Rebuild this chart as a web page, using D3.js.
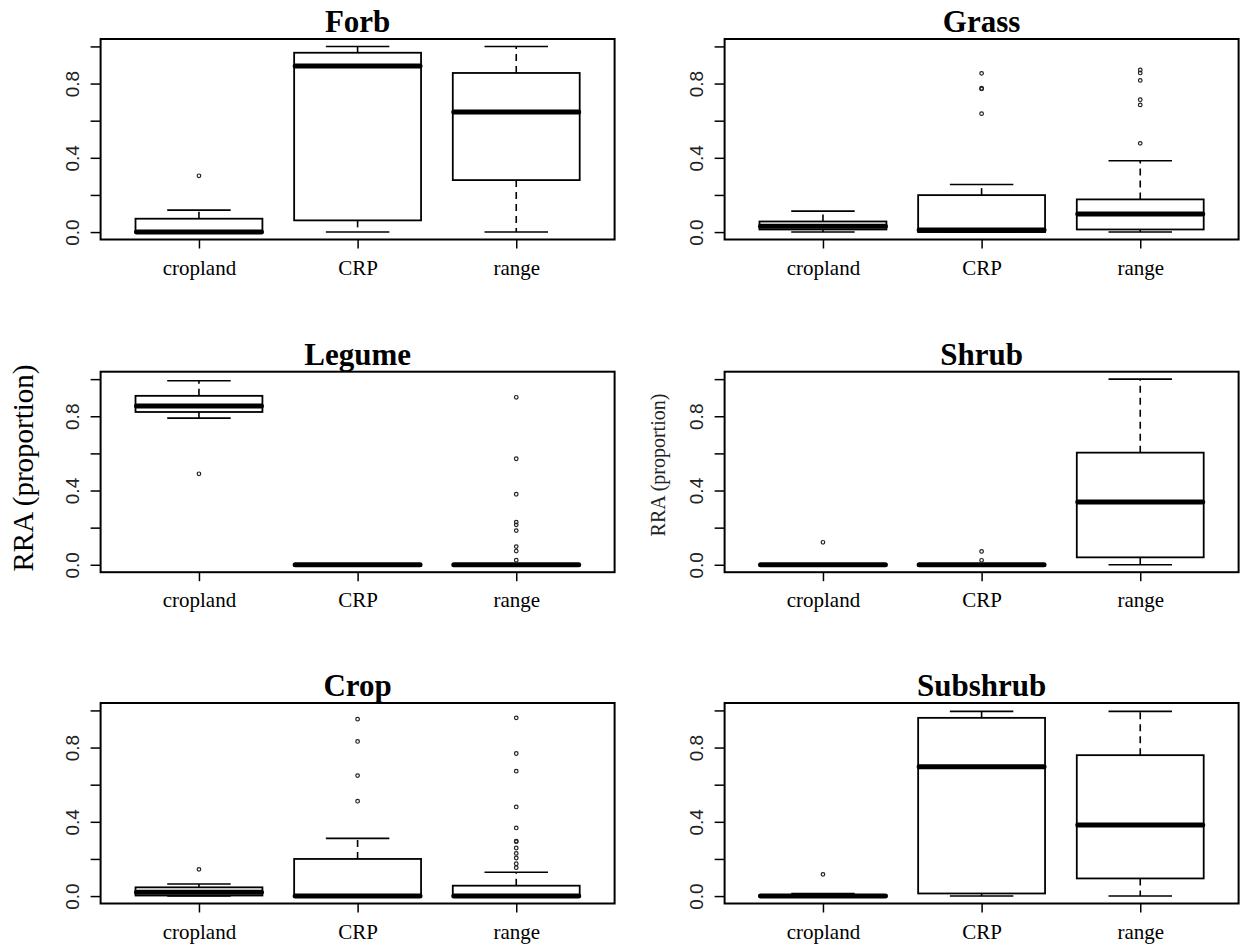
<!DOCTYPE html>
<html lang="en">
<head>
    <meta charset="UTF-8">
    <title>RRA by land use</title>
    <script src="https://d3js.org/d3.v7.min.js"></script>
    <style>
        body { margin: 0; background: #fff; }
    </style>
</head>
<body>
    <svg id="chart"></svg>

    <script>
        const groups = ["cropland", "CRP", "range"];
        const panelTitles = ["Forb", "Grass", "Legume", "Shrub", "Crop", "Subshrub"];
        const yTicks = [0, 0.2, 0.4, 0.6, 0.8, 1.0];
        const yTickLabels = ["0.0", "", "0.4", "", "0.8", ""];

        // box stats per group: [lower whisker, q1, median, q3, upper whisker]
        const forbStats = [[0, 0, 0, 0.072, 0.118], [0, 0.063, 0.894, 0.966, 1.0], [0, 0.28, 0.647, 0.857, 1.0]];
        const grassStats = [[0, 0.014, 0.032, 0.057, 0.113], [0, 0, 0.011, 0.199, 0.256], [0, 0.014, 0.097, 0.176, 0.384]];
        const legumeStats = [[0.79, 0.823, 0.855, 0.91, 0.991], [0, 0, 0, 0, 0], [0, 0, 0, 0, 0]];
        const shrubStats = [[0, 0, 0, 0, 0], [0, 0, 0, 0, 0], [0, 0.04, 0.338, 0.604, 1.0]];
        const cropStats = [[0, 0.003, 0.02, 0.047, 0.065], [0, 0, 0, 0.2, 0.311], [0, 0, 0, 0.056, 0.128]];
        const subshrubStats = [[0, 0, 0, 0.005, 0.013], [0, 0.014, 0.696, 0.96, 0.995], [0, 0.095, 0.383, 0.759, 0.995]];

        // outliers per group
        const forbOut = [[0.303], [], []];
        const grassOut = [[], [0.855, 0.771, 0.775, 0.638], [0.873, 0.857, 0.817, 0.713, 0.685, 0.478]];
        const legumeOut = [[0.49], [], [0.902, 0.571, 0.38, 0.23, 0.215, 0.184, 0.098, 0.074, 0.025]];
        const shrubOut = [[0.121], [0.072, 0.024], []];
        const cropOut = [[0.144], [0.953, 0.833, 0.649, 0.511],
            [0.96, 0.768, 0.673, 0.48, 0.367, 0.293, 0.296, 0.259, 0.23, 0.205, 0.174, 0.153]];
        const subshrubOut = [[0.117], [], []];

        const allStats = [forbStats, grassStats, legumeStats, shrubStats, cropStats, subshrubStats];
        const allOut = [forbOut, grassOut, legumeOut, shrubOut, cropOut, subshrubOut];

        const width = 1243;
        const height = 946;
        const colLeft = [100.6, 724.6];
        const plotW = 514;
        const rowTop = [39, 371.7, 703];
        const plotH = 200.5;

        const svg = d3.select("#chart")
            .attr("width", width)
            .attr("height", height)
            .style("font-family", "'Liberation Serif', 'Times New Roman', serif");

        panelTitles.forEach((title, p) => {
            const left = colLeft[p % 2];
            const top = rowTop[Math.floor(p / 2)];

            const x = d3.scaleLinear().domain([0.38, 3.62]).range([left, left + plotW]);
            const y = d3.scaleLinear().domain([-0.04, 1.04]).range([top + plotH, top]);

            const g = svg.append("g");

            // y axis
            const yAxis = g.append("g")
                .attr("transform", `translate(${left},0)`)
                .call(d3.axisLeft(y).tickValues(yTicks).tickSize(10).tickSizeOuter(0)
                    .tickFormat((d, i) => yTickLabels[i]));
            yAxis.select(".domain").remove();
            yAxis.selectAll("line").attr("stroke", "#000").attr("stroke-width", 1.5);
            yAxis.selectAll("text")
                .attr("x", null).attr("dy", null)
                .attr("transform", "translate(-22,0) rotate(-90)")
                .attr("text-anchor", "middle")
                .attr("fill", "#222")
                .style("font-family", "'Liberation Sans', Arial, sans-serif")
                .style("font-size", "19px");

            // x axis
            const xAxis = g.append("g")
                .attr("transform", `translate(0,${top + plotH})`)
                .call(d3.axisBottom(x).tickValues([1, 2, 3]).tickSize(9).tickSizeOuter(0)
                    .tickFormat((d, i) => groups[i]));
            xAxis.select(".domain").remove();
            xAxis.selectAll("line").attr("stroke", "#000").attr("stroke-width", 1.5);
            xAxis.selectAll("text")
                .attr("y", 35).attr("dy", null)
                .attr("fill", "#000")
                .style("font-family", "'Liberation Serif', 'Times New Roman', serif")
                .style("font-size", "21px");

            const stats = allStats[p];
            const bw = 0.4;
            const cw = 0.2;

            const box = g.selectAll(".box")
                .data(stats)
                .enter()
                .append("g");

            // whiskers
            box.append("line")
                .attr("x1", (d, i) => x(i + 1)).attr("x2", (d, i) => x(i + 1))
                .attr("y1", d => y(d[3])).attr("y2", d => y(d[4]))
                .attr("stroke", "#000").attr("stroke-width", 1.6)
                .attr("stroke-dasharray", "7,5");
            box.append("line")
                .attr("x1", (d, i) => x(i + 1)).attr("x2", (d, i) => x(i + 1))
                .attr("y1", d => y(d[1])).attr("y2", d => y(d[0]))
                .attr("stroke", "#000").attr("stroke-width", 1.6)
                .attr("stroke-dasharray", "7,5");

            // caps
            [0, 4].forEach(k => {
                box.append("line")
                    .attr("x1", (d, i) => x(i + 1 - cw)).attr("x2", (d, i) => x(i + 1 + cw))
                    .attr("y1", d => y(d[k])).attr("y2", d => y(d[k]))
                    .attr("stroke", "#000").attr("stroke-width", 1.6);
            });

            // box
            box.append("rect")
                .attr("x", (d, i) => x(i + 1 - bw))
                .attr("width", x(1 + bw) - x(1 - bw))
                .attr("y", d => y(d[3]))
                .attr("height", d => y(d[1]) - y(d[3]))
                .attr("fill", "#fff")
                .attr("stroke", "#000").attr("stroke-width", 1.8);

            // median
            box.append("line")
                .attr("x1", (d, i) => x(i + 1 - bw) + 1).attr("x2", (d, i) => x(i + 1 + bw) - 1)
                .attr("y1", d => y(d[2])).attr("y2", d => y(d[2]))
                .attr("stroke", "#000").attr("stroke-width", 5)
                .attr("stroke-linecap", "round");

            // outliers
            const pts = [];
            allOut[p].forEach((vals, i) => vals.forEach(v => pts.push({ i, v })));
            g.selectAll(".pt")
                .data(pts)
                .enter()
                .append("circle")
                .attr("cx", d => x(d.i + 1))
                .attr("cy", d => y(d.v))
                .attr("r", 1.8)
                .attr("fill", "none")
                .attr("stroke", "#222")
                .attr("stroke-width", 1.2);

            // frame
            g.append("rect")
                .attr("x", left).attr("y", top)
                .attr("width", plotW).attr("height", plotH)
                .attr("fill", "none")
                .attr("stroke", "#000").attr("stroke-width", 2);

            // title
            g.append("text")
                .attr("x", left + plotW / 2)
                .attr("y", top - 7)
                .attr("text-anchor", "middle")
                .style("font-size", "31px")
                .style("font-weight", "bold")
                .text(title);
        });

        // y axis labels
        svg.append("text")
            .attr("transform", "translate(33,468) rotate(-90)")
            .attr("text-anchor", "middle")
            .style("font-size", "29px")
            .text("RRA (proportion)");

        svg.append("text")
            .attr("transform", "translate(665,465) rotate(-90)")
            .attr("text-anchor", "middle")
            .attr("fill", "#222")
            .style("font-size", "20px")
            .text("RRA (proportion)");
    </script>
</body>
</html>
